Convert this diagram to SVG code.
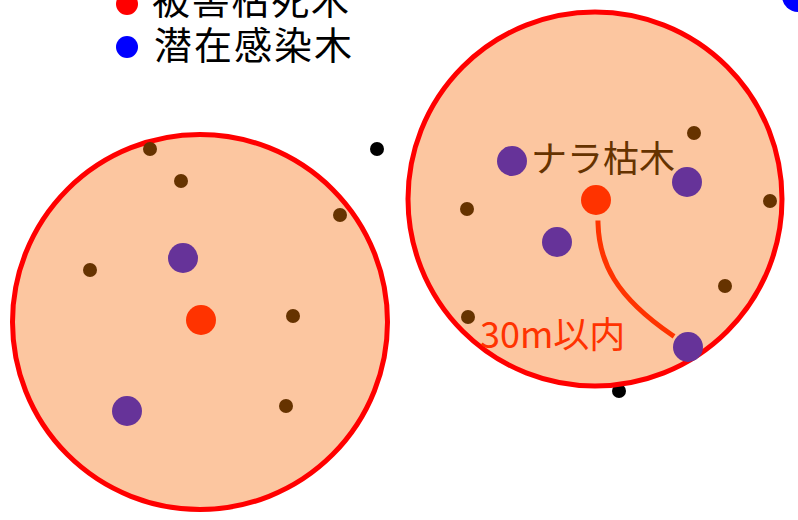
<svg xmlns="http://www.w3.org/2000/svg" width="798" height="520" viewBox="0 0 798 520">
<style>
.zone{fill:#fcc6a0;stroke:#ff0000;stroke-width:5}
.sm{fill:#663300}
.pu{fill:#663399}
.dead{fill:#ff3300}
.blk{fill:#000}
.jp{font-family:"Noto Sans CJK JP","Noto Sans",sans-serif}
</style>
<rect width="798" height="520" fill="#fff"/>
<g id="legend">
<circle cx="127" cy="4" r="11" fill="#ff0000"/>
<text class="jp" x="152" y="14" font-size="38" fill="#000" textLength="197">被害枯死木</text>
<circle cx="127" cy="47" r="11" fill="#0000ff"/>
<text class="jp" x="154" y="59" font-size="38" fill="#000" textLength="198">潜在感染木</text>
</g>
<g id="corner-dot"><circle cx="798" cy="-4" r="16" fill="#0000ff"/></g>
<g id="black-dots">
<circle class="blk" cx="377" cy="149" r="7"/>
<circle class="blk" cx="619" cy="391" r="7"/>
</g>
<g id="left-zone">
<circle class="zone" cx="200" cy="322" r="187.5"/>
<circle class="sm" cx="150" cy="149" r="7"/>
<circle class="sm" cx="181" cy="181" r="7"/>
<circle class="sm" cx="340" cy="215" r="7"/>
<circle class="sm" cx="90" cy="270" r="7"/>
<circle class="sm" cx="293" cy="316" r="7"/>
<circle class="sm" cx="286" cy="406" r="7"/>
<circle class="pu" cx="183" cy="258" r="15"/>
<circle class="pu" cx="127" cy="411" r="15"/>
<circle class="dead" cx="201" cy="320" r="15"/>
</g>
<g id="right-zone">
<circle class="zone" cx="595" cy="199" r="187"/>
<circle class="sm" cx="694" cy="133" r="7"/>
<circle class="sm" cx="467" cy="209" r="7"/>
<circle class="sm" cx="770" cy="201" r="7"/>
<circle class="sm" cx="725" cy="286" r="7"/>
<circle class="sm" cx="468" cy="317" r="7"/>
<circle class="pu" cx="512" cy="161" r="15"/>
<circle class="pu" cx="687" cy="182" r="15"/>
<circle class="pu" cx="557" cy="242" r="15"/>
<circle class="pu" cx="688" cy="347" r="15"/>
<circle class="dead" cx="596" cy="200" r="15"/>
<text class="jp" x="531" y="172" font-size="36" fill="#663300">ナラ枯木</text>
<text class="jp" x="480" y="348" font-size="36" fill="#ff3300">30m以内</text>
</g>
<g id="connectors">
<path d="M598,223 C599,262 615,296 672,335" fill="none" stroke="#ff3300" stroke-width="5" stroke-linecap="square"/>
</g>
</svg>
